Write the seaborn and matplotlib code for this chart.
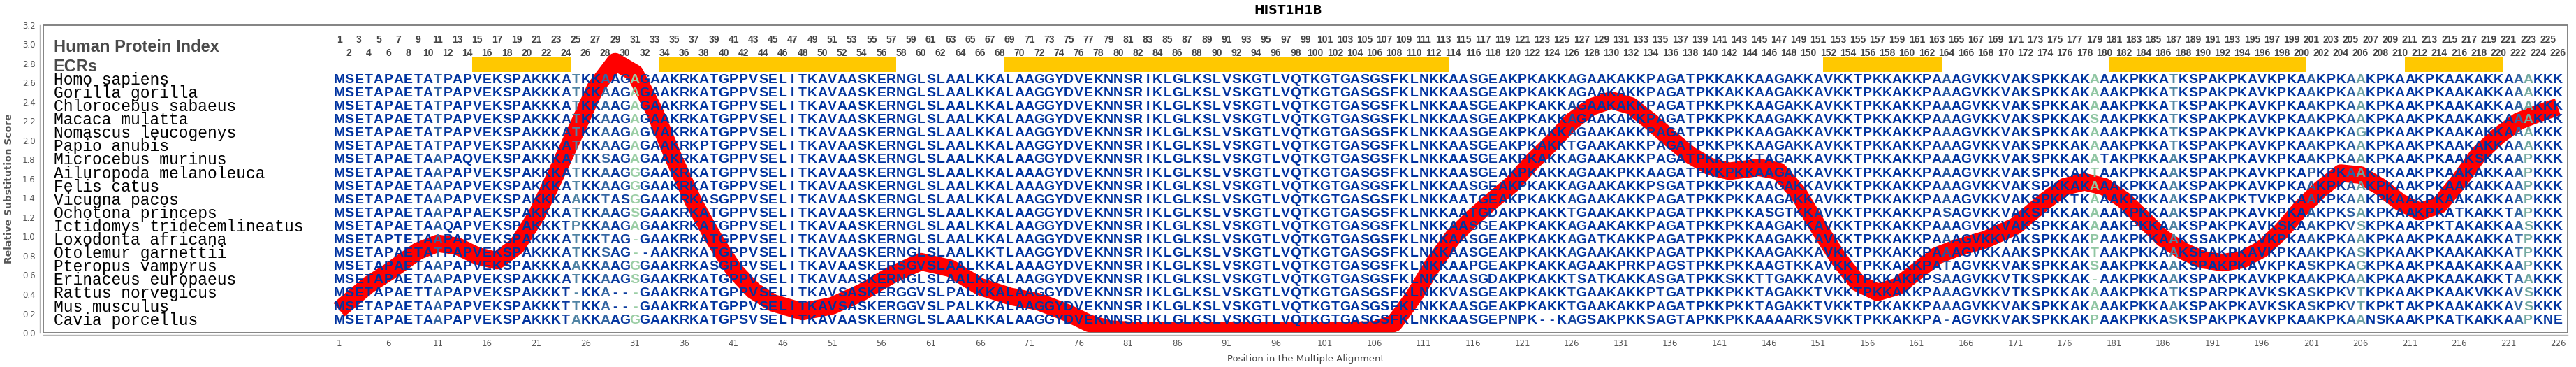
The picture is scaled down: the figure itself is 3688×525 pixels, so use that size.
import matplotlib
matplotlib.use("Agg")
import matplotlib.pyplot as plt
import seaborn as sns
import numpy as np
import pandas as pd
from matplotlib.colors import LinearSegmentedColormap
from matplotlib.patches import Rectangle

# Human HIST1H1B sequence (alignment positions 1-226)
human_seq = ("MSETAPAETATPAPVEKSPAKKKATKKAAGAGAAKRKATGPPVSELITKAVAASKERNGLSLAALKKAL"
             "AAGGYDVEKNNSRIKLGLKSLVSKGTLVQTKGTGASGSFKLNKKAASGEAKPKAKKAGAAKAKKPAGATPK"
             "KAKKAAGAKKAVKKTPKKAKKPAAAGVKKVAKSPKKAKAAAKPKKATKSPAKPKAVKPKAAKPKAAKPKAAKPKAAKAKKAAAKKK")

species = ['Homo sapiens', 'Gorilla gorilla', 'Chlorocebus sabaeus', 'Macaca mulatta',
           'Nomascus leucogenys', 'Papio anubis', 'Microcebus murinus',
           'Ailuropoda melanoleuca', 'Felis catus', 'Vicugna pacos', 'Ochotona princeps',
           'Ictidomys tridecemlineatus', 'Loxodonta africana', 'Otolemur garnettii',
           'Pteropus vampyrus', 'Erinaceus europaeus', 'Rattus norvegicus',
           'Mus musculus', 'Cavia porcellus']

# residues that differ from the human row (position: residue)
differences = [
    {},
    {},
    {142: 'P'},
    {142: 'P', 179: 'S'},
    {33: 'V', 142: 'P', 206: 'G'},
    {38: 'P', 126: 'T', 142: 'P'},
    {11: 'A', 14: 'Q', 28: 'S', 142: 'P', 145: 'T', 180: 'T', 187: 'A', 218: 'S', 223: 'P'},
    {11: 'A', 31: 'G', 72: 'A', 131: 'P', 134: 'A', 142: 'P', 179: 'T', 187: 'A', 201: 'P', 223: 'P'},
    {11: 'A', 31: 'G', 72: 'A', 135: 'S', 142: 'P', 187: 'A', 223: 'P'},
    {11: 'A', 25: 'A', 28: 'T', 30: 'S', 31: 'G', 39: 'S', 116: 'T', 142: 'P', 177: 'T',
     187: 'A', 195: 'T', 223: 'P'},
    {11: 'A', 15: 'A', 31: 'S', 116: 'T', 118: 'D', 126: 'T', 142: 'P', 146: 'S', 148: 'T',
     164: 'S', 187: 'A', 205: 'S', 216: 'T', 221: 'T', 223: 'P'},
    {11: 'A', 12: 'Q', 24: 'T', 25: 'P', 142: 'P', 187: 'A', 198: 'S', 205: 'V', 206: 'S',
     215: 'T', 223: 'S'},
    {7: 'T', 11: 'A', 28: 'T', 31: '-', 129: 'T', 142: 'P', 179: 'P', 187: 'A', 190: 'S',
     222: 'T', 223: 'P'},
    {28: 'S', 31: '-', 32: '-', 68: 'T', 142: 'P', 170: 'A', 179: 'T', 187: 'A', 206: 'S',
     222: 'T', 223: 'P'},
    {11: 'A', 25: 'A', 31: 'G', 39: 'S', 58: 'S', 60: 'V', 72: 'A', 116: 'P', 131: 'P',
     132: 'R', 137: 'S', 142: 'P', 148: 'T', 164: 'T', 179: 'S', 187: 'A', 201: 'S',
     206: 'G', 223: 'P'},
    {11: 'A', 31: 'S', 118: 'D', 126: 'T', 127: 'S', 129: 'T', 134: 'A', 135: 'S', 142: 'S',
     145: 'T', 146: 'T', 163: 'S', 171: 'T', 179: '-', 187: 'A', 221: 'T'},
    {10: 'T', 11: 'A', 24: 'T', 25: '-', 29: '-', 30: '-', 31: '-', 52: 'S', 58: 'G', 60: 'V',
     63: 'P', 114: 'V', 126: 'T', 135: 'T', 142: 'P', 145: 'T', 151: 'T', 171: 'T', 192: 'R',
     198: 'S', 201: 'S', 205: 'V', 206: 'T', 218: 'V', 222: 'V', 223: 'S'},
    {11: 'A', 24: 'T', 29: '-', 30: '-', 31: '-', 52: 'S', 58: 'G', 60: 'V', 63: 'P',
     126: 'T', 142: 'P', 145: 'T', 151: 'T', 187: 'A', 198: 'S', 201: 'S', 205: 'V',
     206: 'T', 210: 'T', 222: 'V', 223: 'S'},
    {11: 'A', 24: 'T', 25: 'A', 31: 'G', 42: 'S', 119: 'P', 120: 'N', 123: '-', 124: '-',
     128: 'S', 131: 'P', 134: 'S', 137: 'T', 138: 'A', 142: 'P', 147: 'A', 149: 'R',
     151: 'S', 164: '-', 179: 'P', 187: 'S', 207: 'N', 208: 'S', 216: 'T', 223: 'P',
     225: 'N', 226: 'E'},
]

# evolutionarily conserved regions (first, last position)
ecr_ranges = [(15, 24), (34, 57), (69, 113), (152, 163), (181, 200), (211, 220)]

# relative substitution score
score_pos = [1, 4, 6, 9, 11, 13, 15, 17, 19, 21, 23, 25, 27, 29, 31, 33, 35, 37, 39, 41,
             43, 45, 48, 51, 54, 57, 60, 63, 66, 69, 72, 75, 77, 79, 82, 86, 90, 94, 98,
             102, 106, 108, 110, 112, 114, 116, 118, 120, 122, 124, 126, 128, 130, 132,
             134, 136, 138, 140, 142, 145, 147, 149, 151, 153, 155, 157, 159, 161, 163,
             165, 168, 171, 174, 176, 178, 180, 182, 184, 186, 188, 190, 192, 194, 196,
             198, 200, 202, 204, 206, 208, 210, 212, 214, 216, 218, 220, 222, 224, 226]
score_val = [0.24, 0.50, 0.63, 0.85, 0.93, 0.90, 0.80, 0.75, 0.90, 1.22, 1.65, 2.10, 2.55,
             2.82, 2.70, 2.30, 1.80, 1.35, 0.98, 0.66, 0.44, 0.31, 0.22, 0.28, 0.42, 0.60,
             0.74, 0.67, 0.48, 0.38, 0.32, 0.20, 0.10, 0.04, 0.02, 0.02, 0.02, 0.02, 0.02,
             0.02, 0.03, 0.10, 0.38, 0.72, 1.00, 1.20, 1.38, 1.55, 1.78, 1.98, 2.20, 2.35,
             2.42, 2.36, 2.20, 2.02, 1.85, 1.73, 1.68, 1.72, 1.68, 1.45, 1.10, 0.78, 0.52,
             0.42, 0.48, 0.64, 0.80, 0.88, 0.97, 1.11, 1.37, 1.52, 1.57, 1.52, 1.38, 1.18,
             0.98, 0.85, 0.76, 0.73, 0.76, 0.87, 1.06, 1.30, 1.50, 1.66, 1.64, 1.52, 1.36,
             1.26, 1.33, 1.58, 1.86, 2.05, 2.20, 2.28, 2.35]

# build the alignment rows
seqs = []
for diff in differences:
    s = list(human_seq)
    for pos, res in diff.items():
        s[pos - 1] = res
    seqs.append(''.join(s))
n_pos = len(human_seq)

# column colour from column variability (entropy)
entropy = []
for j in range(n_pos):
    col = pd.Series([s[j] for s in seqs])
    p = col.value_counts(normalize=True).values
    entropy.append(-(p * np.log2(p)).sum())
entropy = np.array(entropy)
cmap = LinearSegmentedColormap.from_list('cons', [
    (0.0, '#0033A0'), (0.40, '#0A3A9F'), (0.50, '#3466A2'),
    (0.68, '#5A8FA3'), (0.85, '#8DC3A2'), (1.0, '#9ED1A6')])
col_colors = [cmap(min(e / 1.9, 1.0)) for e in entropy]

sns.set_style("white")
plt.rcParams['font.family'] = ['DejaVu Sans']

fig = plt.figure(figsize=(36.88, 5.25), dpi=100)
ax = fig.add_axes([62 / 3688, 1 - 476 / 525, (3676 - 62) / 3688, (476 - 36) / 525])
ax.set_xlim(-29, 227)
ax.set_ylim(0, 3.2)

# substitution score curve
sns.lineplot(x=score_pos, y=score_val, ax=ax, color='#FF0000', linewidth=18,
             solid_joinstyle='round', solid_capstyle='butt', zorder=2, sort=False)

# ECR bars
for a, b in ecr_ranges:
    ax.add_patch(Rectangle((a - 0.5, 2.715), b - a + 1, 0.155, facecolor='#FFC800',
                           edgecolor='none', zorder=1))

# position index numbers
for p in range(1, n_pos + 1):
    yy = 3.05 if p % 2 == 1 else 2.91
    ax.text(p, yy, str(p), ha='center', va='center', fontsize=10, fontweight='bold',
            color='#444444', family=['Liberation Sans', 'DejaVu Sans'], zorder=3)

x_label_col = -27.97
ax.text(x_label_col, 2.97, 'Human Protein Index', ha='left', va='center', fontsize=17,
        fontweight='bold', color='#4A4A4A', family=['Liberation Sans', 'DejaVu Sans'])
ax.text(x_label_col, 2.765, 'ECRs', ha='left', va='center', fontsize=17,
        fontweight='bold', color='#4A4A4A', family=['Liberation Sans', 'DejaVu Sans'])

# alignment rows
row_y = 2.63 - 0.1389 * np.arange(len(species))
for i, (name, seq) in enumerate(zip(species, seqs)):
    y = row_y[i]
    ax.text(x_label_col, y, name, ha='left', va='center', fontsize=16.5, color='black',
            family=['Liberation Mono', 'DejaVu Sans Mono'], zorder=4)
    for j, ch in enumerate(seq):
        ax.text(j + 1, y, ch, ha='center', va='center', fontsize=14, fontweight='bold',
                color=col_colors[j], family=['Liberation Sans', 'DejaVu Sans'], zorder=4)

# axes styling
for side in ['top', 'right']:
    ax.spines[side].set_visible(False)
ax.spines['left'].set_position(('outward', 3.6))
ax.spines['bottom'].set_position(('outward', 2.2))
for side in ['left', 'bottom']:
    ax.spines[side].set_color('#B5B5B5')
    ax.spines[side].set_linewidth(1.0)
ax.add_patch(Rectangle((0, 0), 1, 1, transform=ax.transAxes, fill=False,
                       edgecolor='#7A7A7A', linewidth=1.3, clip_on=False, zorder=6))

ax.set_yticks(np.round(np.arange(0, 3.21, 0.2), 1))
ax.set_yticklabels([f'{v:.1f}' for v in np.arange(0, 3.21, 0.2)])
xt = list(range(-29, 0, 5)) + list(range(1, 227, 5))
ax.set_xticks(xt)
ax.set_xticklabels(['' if t < 1 else str(t) for t in xt])
ax.tick_params(axis='both', length=2.5, width=0.8, color='#B5B5B5', labelsize=8.5,
               labelcolor='#555555', pad=2)

ax.set_ylabel('Relative Substitution Score', fontsize=10, fontweight='bold', color='#555555')
ax.yaxis.set_label_coords(-0.0115, 0.47)
ax.set_xlabel('Position in the Multiple Alignment', fontsize=9.5, color='#444444', labelpad=6)

fig.text(0.5, 1 - 15 / 525, 'HIST1H1B', ha='center', va='center', fontsize=12.5,
         fontweight='bold', color='black')

fig.savefig('out.png', dpi=100)
